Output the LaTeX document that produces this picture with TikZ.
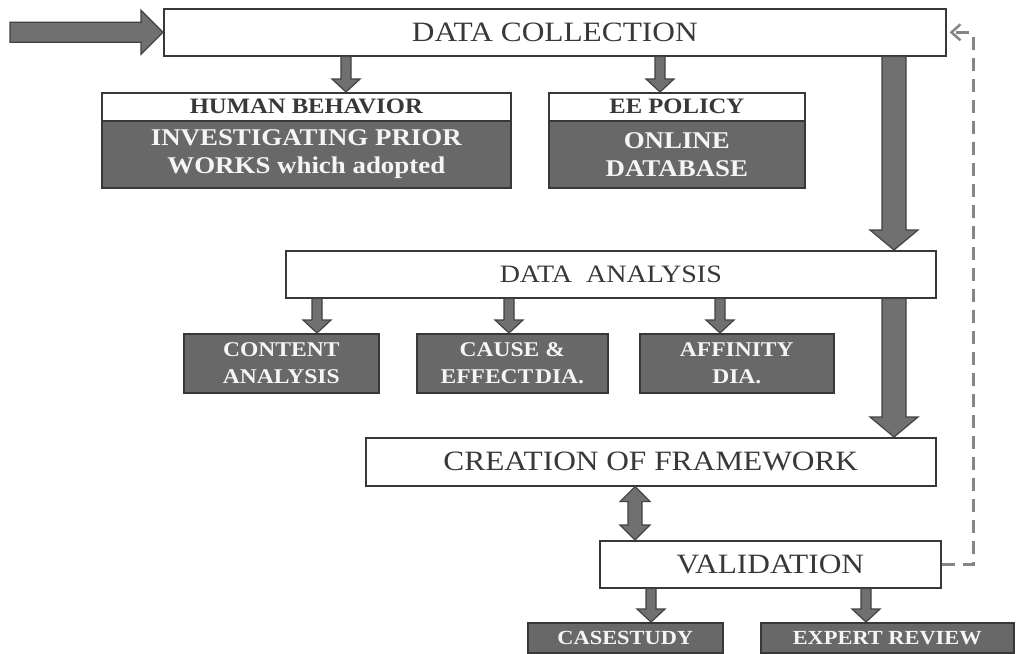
\documentclass[tikz,border=0pt]{standalone}
\usepackage{fontspec}
\setmainfont{Liberation Serif}[FakeStretch=1.12]
\usetikzlibrary{calc,arrows.meta,shadows}

\definecolor{boxgray}{HTML}{686868}
\definecolor{edgegray}{HTML}{383838}
\definecolor{arrowgray}{HTML}{707070}
\definecolor{arrowedge}{HTML}{424242}
\definecolor{dashgray}{HTML}{858585}

% block arrow pointing down from #1 to #2 (half shaft #3, half head #4, head length #5)
\newcommand\downblock[5]{%
  \path[blk] let \p1=#1, \p2=#2 in
    (\x1-#3,\y1) -- (\x1+#3,\y1) -- (\x1+#3,\y2+#5) -- (\x1+#4,\y2+#5)
    -- (\x1,\y2) -- (\x1-#4,\y2+#5) -- (\x1-#3,\y2+#5) -- cycle;}
% block arrow pointing right from #1 to #2
\newcommand\rightblock[5]{%
  \path[blk] let \p1=#1, \p2=#2 in
    (\x1,\y1+#3) -- (\x2-#5,\y1+#3) -- (\x2-#5,\y1+#4) -- (\x2,\y1)
    -- (\x2-#5,\y1-#4) -- (\x2-#5,\y1-#3) -- (\x1,\y1-#3) -- cycle;}
% two-headed vertical block arrow between #1 (top) and #2 (bottom)
\newcommand\twoblock[5]{%
  \path[blk] let \p1=#1, \p2=#2 in
    (\x1,\y1) -- (\x1+#4,\y1-#5) -- (\x1+#3,\y1-#5) -- (\x1+#3,\y2+#5)
    -- (\x1+#4,\y2+#5) -- (\x1,\y2) -- (\x1-#4,\y2+#5) -- (\x1-#3,\y2+#5)
    -- (\x1-#3,\y1-#5) -- (\x1-#4,\y1-#5) -- cycle;}

\tikzset{
  softshadow/.style={drop shadow={shadow xshift=1.5pt, shadow yshift=-1.5pt, opacity=0.25}},
  whitebox/.style={draw=edgegray, line width=1.6pt, fill=white, inner sep=0pt,
    anchor=north west, softshadow, text=black!78},
  headbox/.style={whitebox, font=\fontsize{22}{24}\selectfont\bfseries},
  darkbox/.style={draw=edgegray, line width=1.6pt, fill=boxgray, inner sep=0pt,
    anchor=north west, softshadow, text=white!96!black, align=center,
    font=\fontsize{24}{28}\selectfont\bfseries},
  smallbox/.style={darkbox, font=\fontsize{21}{27}\selectfont\bfseries},
  stripbox/.style={darkbox, font=\fontsize{20}{22}\selectfont\bfseries},
  bigtext/.style={font=\fontsize{28}{30}\selectfont},
  blk/.style={fill=arrowgray, draw=arrowedge, line width=1.2pt, line join=miter},
  dashline/.style={draw=dashgray, line width=3pt, dash pattern=on 13pt off 8pt,
    -{Straight Barb[length=9pt,width=16pt,line width=2.5pt]}},
}

\begin{document}
\begin{tikzpicture}[x=1pt,y=-1pt]
\useasboundingbox (0,0) rectangle (1016,653);

% process boxes
\node[whitebox, bigtext, minimum width=782pt, minimum height=47pt] (dc) at (163,8) {DATA COLLECTION};
\node[headbox, minimum width=409pt, minimum height=28pt] (hb) at (101,92) {HUMAN BEHAVIOR};
\node[darkbox, minimum width=409pt, minimum height=67pt] (hbb) at (101,120) {INVESTIGATING PRIOR\\WORKS which adopted};
\node[headbox, minimum width=256pt, minimum height=28pt] (ee) at (548,92) {EE POLICY};
\node[darkbox, minimum width=256pt, minimum height=67pt] (eeb) at (548,120) {ONLINE\\DATABASE};

\node[whitebox, font=\fontsize{25}{28}\selectfont, minimum width=650pt, minimum height=47pt] (da) at (285,250) {DATA\ \ ANALYSIS};
\node[smallbox, minimum width=195pt, minimum height=59pt] (ca) at (183,333) {CONTENT\\ANALYSIS};
\node[smallbox, minimum width=191pt, minimum height=59pt] (ce) at (416,333) {CAUSE \&\\EFFECT\hspace{0.08em}DIA.};
\node[smallbox, minimum width=194pt, minimum height=59pt] (af) at (639,333) {AFFINITY\\DIA.};

\node[whitebox, bigtext, minimum width=570pt, minimum height=48pt] (cf) at (365,437) {CREATION OF FRAMEWORK};
\node[whitebox, bigtext, minimum width=341pt, minimum height=47pt] (va) at (599,540) {VALIDATION};
\node[stripbox, minimum width=195pt, minimum height=30pt] (cs) at (527,622) {CASESTUDY};
\node[stripbox, minimum width=253pt, minimum height=30pt] (ex) at (760,622) {EXPERT REVIEW};

% arrow columns
\coordinate (in) at (10,0);
\coordinate (a1) at (346,0);
\coordinate (a2) at (660,0);
\coordinate (a3) at (894,0);
\coordinate (a4) at (317,0);
\coordinate (a5) at (509,0);
\coordinate (a6) at (720,0);
\coordinate (a7) at (635,0);
\coordinate (a8) at (651,0);
\coordinate (a9) at (866,0);
\coordinate (dl) at (973,0);

% connectors
\rightblock{(dc.west -| in)}{(dc.west)}{10pt}{22pt}{22pt}
\downblock{(dc.south -| a1)}{(hb.north -| a1)}{5pt}{14pt}{13pt}
\downblock{(dc.south -| a2)}{(ee.north -| a2)}{5pt}{14pt}{13pt}
\downblock{(dc.south -| a3)}{(da.north -| a3)}{12pt}{24pt}{20pt}
\downblock{(da.south -| a4)}{(ca.north -| a4)}{5pt}{14pt}{13pt}
\downblock{(da.south -| a5)}{(ce.north -| a5)}{5pt}{14pt}{13pt}
\downblock{(da.south -| a6)}{(af.north -| a6)}{5pt}{14pt}{13pt}
\downblock{(da.south -| a3)}{(cf.north -| a3)}{12pt}{24pt}{20pt}
\twoblock{(cf.south -| a7)}{(va.north -| a7)}{7pt}{15pt}{15pt}
\downblock{(va.south -| a8)}{(cs.north -| a8)}{5pt}{14pt}{13pt}
\downblock{(va.south -| a9)}{(ex.north -| a9)}{5pt}{14pt}{13pt}

% feedback loop
\draw[dashline] (va.east) -- (va.east -| dl) -- (dc.east -| dl) -- ([xshift=3pt]dc.east);
\end{tikzpicture}
\end{document}
